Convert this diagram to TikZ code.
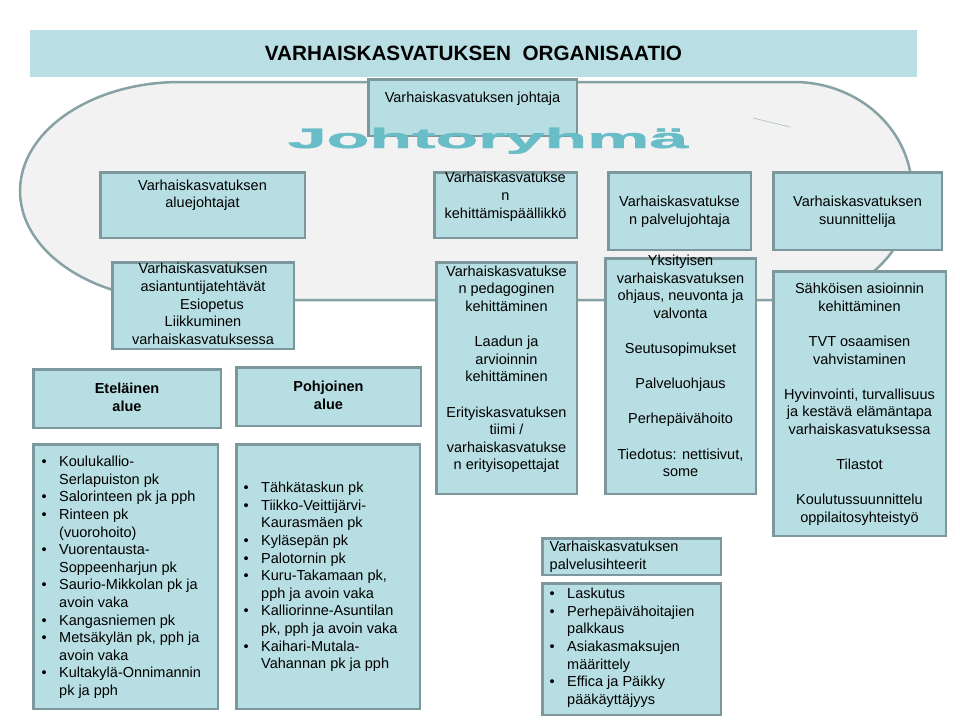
\documentclass[tikz,border=0pt]{standalone}
\usepackage{fontspec}
\setmainfont{Liberation Sans}
\newfontfamily\jfam{Liberation Sans}[BoldFeatures={FakeBold=1.2}]
\usepackage{graphicx}
\usepackage{array}
\definecolor{boxc}{RGB}{183,222,227}
\definecolor{bordc}{RGB}{125,152,156}
\definecolor{bandc}{RGB}{185,223,228}
\definecolor{ovalfill}{RGB}{242,242,242}
\definecolor{ovalline}{RGB}{135,162,165}
\definecolor{johc}{RGB}{104,189,199}
\newcommand\bul{\makebox[17.5pt][l]{\textbullet}&}
\newcommand\boxnode[5]{\node[box, minimum width={#4-#2-2.5}, minimum height={#5-#3-2.5}] (#1) at ({(#2+#4)/2},{(#3+#5)/2}) {};}
\begin{document}
\begin{tikzpicture}[x=1pt,y=-1pt,
  box/.style={draw=bordc, fill=boxc, line width=2.5pt, rectangle, inner sep=0pt, outer sep=0pt},
  txt/.style={inner sep=0pt, font=\fontsize{14.5}{17.6}\selectfont},
  btxt/.style={txt, font=\fontsize{14.5}{17.6}\selectfont\bfseries},
  jfont/.style={font=\fontsize{28}{30}\selectfont\jfam\bfseries, inner sep=0pt, anchor=base}
]
\useasboundingbox (0,0) rectangle (960,720);
\fill[white] (0,0) rectangle (960,720);
% title band
\node[fill=bandc, minimum width=887, minimum height=47, inner sep=0pt] (band) at (473.5,53.5) {};
\node[font=\fontsize{20.7}{24}\selectfont\bfseries, inner sep=0pt] (title) at (473.5,53) {VARHAISKASVATUKSEN\ \ ORGANISAATIO};
% leadership group shape
\draw[ovalline, fill=ovalfill, line width=2.5pt] (180,82) -- (794,82)
  .. controls (859.2,82) and (912,130.8) .. (912,191)
  .. controls (912,251.2) and (859.2,300) .. (794,300) -- (180,300)
  .. controls (91.6,300) and (20,251.2) .. (20,191)
  .. controls (20,130.8) and (91.6,82) .. (180,82) -- cycle;
\draw[ovalline!60, line width=0.8pt] (753,118) -- (790,127);
% director
\boxnode{bjoh}{367}{78}{578}{137}
\node[txt] (tjoh) at (472.5,99) {\begin{tabular}{@{}c@{}}Varhaiskasvatuksen johtaja\end{tabular}};
% Johtoryhma
\node[jfont, text=johc] (joh) at (488,148) {\scalebox{2.5}[1]{Johtoryhmä}};
% upper row
\boxnode{balue}{99}{171}{306}{239}
\node[txt] (talue) at (202.5,195.5) {\begin{tabular}{@{}c@{}}Varhaiskasvatuksen\\aluejohtajat\end{tabular}};
\boxnode{bkeh}{433}{171}{578}{239}
\node[txt] (tkeh) at (505.5,197) {\begin{tabular}{@{}c@{}}Varhaiskasvatukse\\n\\kehittämispäällikkö\end{tabular}};
\boxnode{bpalv}{607}{171}{752}{251}
\node[txt] (tpalv) at (679.5,212) {\begin{tabular}{@{}c@{}}Varhaiskasvatukse\\n palvelujohtaja\end{tabular}};
\boxnode{bsuun}{772}{171}{943}{251}
\node[txt] (tsuun) at (857.5,212) {\begin{tabular}{@{}c@{}}Varhaiskasvatuksen\\suunnittelija\end{tabular}};
% second row
\boxnode{basian}{111}{261}{295}{350}
\node[txt] (tasian) at (203,305.5) {\begin{tabular}{@{}c@{}}Varhaiskasvatuksen\\asiantuntijatehtävät\\\hspace*{18pt}Esiopetus\\Liikkuminen\\varhaiskasvatuksessa\end{tabular}};
\boxnode{bped}{435}{261}{578}{495}
\node[txt] (tped) at (506.5,369.5) {\begin{tabular}{@{}c@{}}Varhaiskasvatukse\\n pedagoginen\\kehittäminen\\ \\Laadun ja\\arvioinnin\\kehittäminen\\ \\Erityiskasvatuksen\\tiimi /\\varhaiskasvatukse\\n erityisopettajat\end{tabular}};
\boxnode{byks}{604}{257}{757}{495}
\node[txt] (tyks) at (680.5,367.5) {\begin{tabular}{@{}c@{}}Yksityisen\\varhaiskasvatuksen\\ohjaus, neuvonta ja\\valvonta\\ \\Seutusopimukset\\ \\Palveluohjaus\\ \\Perhepäivähoito\\ \\Tiedotus: nettisivut,\\some\end{tabular}};
\boxnode{bsahk}{772}{270}{947}{537}
\node[txt] (tsahk) at (859.5,404.5) {\begin{tabular}{@{}c@{}}Sähköisen asioinnin\\kehittäminen\\ \\TVT osaamisen\\vahvistaminen\\ \\Hyvinvointi, turvallisuus\\ja kestävä elämäntapa\\varhaiskasvatuksessa\\ \\Tilastot\\ \\Koulutussuunnittelu\\oppilaitosyhteistyö\end{tabular}};
% areas
\boxnode{betel}{32}{368}{222}{429}
\node[btxt] (tetel) at (127,399) {\begin{tabular}{@{}c@{}}Eteläinen\\alue\end{tabular}};
\boxnode{bpohj}{235}{366}{422}{427}
\node[btxt] (tpohj) at (328.5,397) {\begin{tabular}{@{}c@{}}Pohjoinen\\alue\end{tabular}};
\boxnode{betelL}{32}{443}{219}{710}
\node[txt, anchor=north west] (tetelL) at (41.5,454.2) {\begin{tabular}{@{}l@{}l@{}}
\bul Koulukallio-\\ & Serlapuiston pk\\
\bul Salorinteen pk ja pph\\
\bul Rinteen pk\\ & (vuorohoito)\\
\bul Vuorentausta-\\ & Soppeenharjun pk\\
\bul Saurio-Mikkolan pk ja\\ & avoin vaka\\
\bul Kangasniemen pk\\
\bul Metsäkylän pk, pph ja\\ & avoin vaka\\
\bul Kultakylä-Onnimannin\\ & pk ja pph
\end{tabular}};
\boxnode{bpohjL}{235}{443}{421}{710}
\node[txt, anchor=north west] (tpohjL) at (243.5,480.2) {\begin{tabular}{@{}l@{}l@{}}
\bul Tähkätaskun pk\\
\bul Tiikko-Veittijärvi-\\ & Kaurasmäen pk\\
\bul Kyläsepän pk\\
\bul Palotornin pk\\
\bul Kuru-Takamaan pk,\\ & pph ja avoin vaka\\
\bul Kalliorinne-Asuntilan\\ & pk, pph ja avoin vaka\\
\bul Kaihari-Mutala-\\ & Vahannan pk ja pph
\end{tabular}};
% service secretaries
\boxnode{bsih}{541}{537}{722}{576}
\node[txt, anchor=west] (tsih) at (549.5,557) {\begin{tabular}{@{}l@{}}Varhaiskasvatuksen\\palvelusihteerit\end{tabular}};
\boxnode{bsihL}{541}{582}{722}{716}
\node[txt, anchor=north west] (tsihL) at (549.5,586.2) {\begin{tabular}{@{}l@{}l@{}}
\bul Laskutus\\
\bul Perhepäivähoitajien\\ & palkkaus\\
\bul Asiakasmaksujen\\ & määrittely\\
\bul Effica ja Päikky\\ & pääkäyttäjyys
\end{tabular}};
\end{tikzpicture}
\end{document}
